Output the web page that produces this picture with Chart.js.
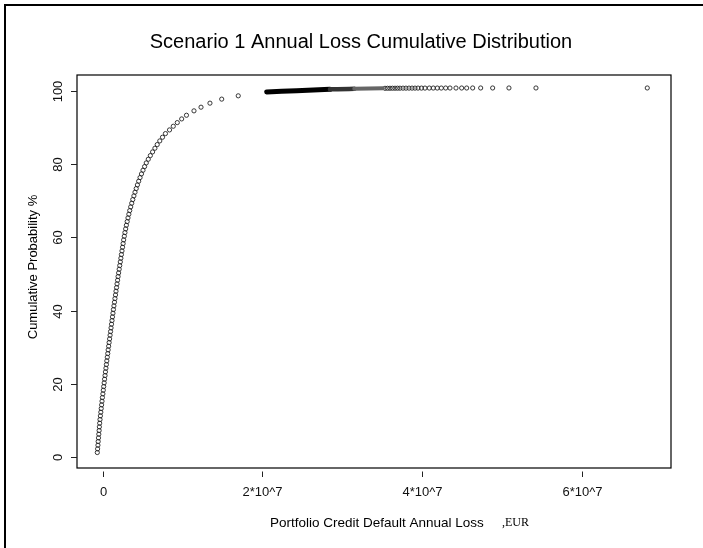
<!DOCTYPE html>
<html><head><meta charset="utf-8">
<script src="https://cdn.jsdelivr.net/npm/chart.js@4.4.1/dist/chart.umd.min.js"></script>
<style>html,body{margin:0;padding:0;background:#fff;}canvas{display:block;}</style>
</head><body>
<canvas id="c" width="703" height="548"></canvas>
<script>
// Loss values in millions of EUR, cumulative probability in %
const cdfLossM = [-0.66,-0.62,-0.58,-0.55,-0.51,-0.47,-0.43,-0.40,-0.36,-0.32,
  -0.27,-0.22,-0.17,-0.12,-0.07,-0.02,0.04,0.09,0.14,0.20,
  0.25,0.31,0.36,0.42,0.48,0.53,0.59,0.65,0.70,0.76,
  0.82,0.88,0.94,1.00,1.06,1.12,1.18,1.24,1.30,1.36,
  1.42,1.49,1.55,1.62,1.68,1.75,1.81,1.88,1.94,2.01,
  2.08,2.15,2.22,2.29,2.36,2.43,2.50,2.57,2.64,2.72,
  2.80,2.89,2.98,3.08,3.18,3.29,3.40,3.52,3.65,3.78,
  3.92,4.06,4.21,4.36,4.52,4.69,4.87,5.06,5.26,5.47,
  5.72,5.98,6.26,6.55,6.84,7.16,7.50,7.87,8.38,8.85,
  9.35,9.90,10.50,11.44,12.32,13.44,14.91,16.98];
const cdfProb = [1.3,2.3,3.3,4.3,5.3,6.3,7.3,8.3,9.3,10.3,
  11.3,12.3,13.3,14.3,15.3,16.3,17.3,18.3,19.3,20.3,
  21.3,22.3,23.3,24.3,25.3,26.3,27.3,28.3,29.3,30.3,
  31.3,32.3,33.3,34.3,35.3,36.3,37.3,38.3,39.3,40.3,
  41.3,42.3,43.3,44.3,45.3,46.3,47.3,48.3,49.3,50.3,
  51.3,52.3,53.3,54.3,55.3,56.3,57.3,58.3,59.3,60.3,
  61.3,62.3,63.3,64.3,65.3,66.3,67.3,68.3,69.3,70.3,
  71.3,72.3,73.3,74.3,75.3,76.3,77.3,78.3,79.3,80.3,
  81.3,82.3,83.3,84.3,85.3,86.3,87.3,88.3,89.3,90.3,
  91.3,92.3,93.3,94.5,95.5,96.6,97.7,98.6];
// dense overlapping run of points (drawn as a thick stroke)
const bandLossM = [20.54, 24.29, 28.46, 31.5, 35.09];
const bandProb  = [99.65, 100.00, 100.38, 100.52, 100.65];
// separable tail points
const tailLossM = [35.35,35.66,35.97,36.28,36.60,36.91,37.22,37.60,37.97,38.35,
  38.73,39.10,39.48,39.91,40.35,40.89,41.39,41.89,42.39,42.94,
  43.48,44.23,44.94,45.57,46.32,47.32,48.82,50.86,54.24,68.17];
const tailProb = [100.65,100.66,100.66,100.67,100.67,100.68,100.68,100.69,100.69,100.70,
  100.70,100.70,100.71,100.71,100.71,100.72,100.72,100.72,100.72,100.73,
  100.73,100.73,100.73,100.73,100.74,100.74,100.74,100.74,100.74,100.74];

const xTickValues = [0, 20, 40, 60];
const xTickLabels = ['0', '2*10^7', '4*10^7', '6*10^7'];
const yTickValues = [0, 20, 40, 60, 80, 100];
const yTickLabels = ['0', '20', '40', '60', '80', '100'];

const titleText = 'Scenario 1 Annual Loss Cumulative Distribution';
const xLabelText = 'Portfolio Credit Default Annual Loss';
const xLabelUnit = ',EUR';
const yLabelText = 'Cumulative Probability %';

const toPts = (xs, ys) => xs.map((v, i) => ({x: v, y: ys[i]}));

const decor = {
  id: 'decor',
  afterDraw(chart) {
    const {ctx, chartArea: a, scales: {x, y}} = chart;
    ctx.save();
    // outer frame
    ctx.strokeStyle = '#000'; ctx.lineWidth = 2;
    ctx.beginPath(); ctx.moveTo(5, 548); ctx.lineTo(5, 5); ctx.lineTo(703, 5); ctx.stroke();
    // plot box
    ctx.lineWidth = 1.2; ctx.strokeStyle = '#000';
    ctx.strokeRect(a.left, a.top, a.right - a.left, a.bottom - a.top);
    // y ticks
    ctx.lineWidth = 1; ctx.strokeStyle = '#222';
    ctx.fillStyle = '#111';
    ctx.font = '13px "Liberation Sans", Arial, sans-serif';
    yTickValues.forEach((v, i) => {
      const py = Math.round(y.getPixelForValue(v)) + 0.5;
      ctx.beginPath(); ctx.moveTo(a.left - 6, py); ctx.lineTo(a.left, py); ctx.stroke();
      ctx.save();
      ctx.translate(58, py); ctx.rotate(-Math.PI / 2);
      ctx.textAlign = 'center'; ctx.textBaseline = 'middle';
      ctx.fillText(yTickLabels[i], 0, 0);
      ctx.restore();
    });
    // x ticks
    xTickValues.forEach((v, i) => {
      const px = Math.round(x.getPixelForValue(v)) + 0.5;
      ctx.beginPath(); ctx.moveTo(px, a.bottom + 3.5); ctx.lineTo(px, a.bottom + 9); ctx.stroke();
      ctx.textAlign = 'center'; ctx.textBaseline = 'middle';
      ctx.fillText(xTickLabels[i], px, 492);
    });
    // title
    ctx.fillStyle = '#000';
    ctx.font = '20px "Liberation Sans", Arial, sans-serif';
    ctx.textAlign = 'center'; ctx.textBaseline = 'middle';
    ctx.fillText(titleText, 361, 42);
    // y label
    ctx.font = '13px "Liberation Sans", Arial, sans-serif';
    ctx.save(); ctx.translate(33, 267); ctx.rotate(-Math.PI / 2);
    ctx.fillText(yLabelText, 0, 0); ctx.restore();
    // x label
    ctx.textAlign = 'left';
    ctx.font = '13.5px "Liberation Sans", Arial, sans-serif';
    ctx.fillText(xLabelText, 270, 523);
    ctx.font = '12px "Liberation Serif", "Times New Roman", serif';
    ctx.fillText(xLabelUnit, 502, 523);
    ctx.restore();
  }
};

new Chart(document.getElementById('c'), {
  type: 'scatter',
  data: {
    datasets: [
      {
        data: toPts(bandLossM, bandProb),
        showLine: true, pointRadius: 0, borderColor: '#000', borderWidth: 5,
        borderCapStyle: 'round', borderJoinStyle: 'round', tension: 0.3,
        segment: {
          borderColor: c => ['#000', '#000', '#333', '#666'][c.p0DataIndex],
          borderWidth: c => [5, 5, 4.5, 4][c.p0DataIndex]
        }
      },
      {
        data: toPts(cdfLossM, cdfProb),
        pointStyle: 'circle', pointRadius: 2.1, pointBorderWidth: 0.9,
        pointBorderColor: '#222', pointBackgroundColor: 'rgba(0,0,0,0)', showLine: false
      },
      {
        data: toPts(tailLossM, tailProb),
        pointStyle: 'circle', pointRadius: 2.1, pointBorderWidth: 0.9,
        pointBorderColor: '#222', pointBackgroundColor: 'rgba(0,0,0,0)', showLine: false
      }
    ]
  },
  options: {
    responsive: false, animation: false, devicePixelRatio: 1,
    layout: {padding: {left: 77, right: 32, top: 75, bottom: 80}},
    scales: {
      x: {type: 'linear', min: -3.2, max: 71.14, display: false},
      y: {type: 'linear', min: -2.92, max: 104.28, display: false}
    },
    plugins: {legend: {display: false}, tooltip: {enabled: false}, title: {display: false}},
    events: []
  },
  plugins: [decor]
});
</script>
</body></html>
